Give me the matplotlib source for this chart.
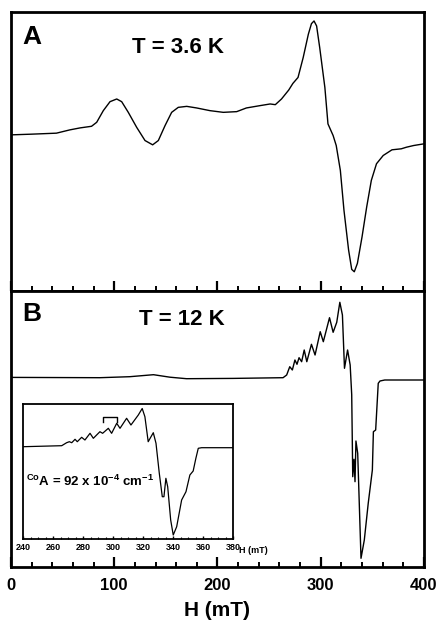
import matplotlib
matplotlib.use("Agg")
import matplotlib.pyplot as plt
from matplotlib.ticker import MultipleLocator

plt.rcParams["font.family"] = ["Liberation Sans", "DejaVu Sans"]
plt.rcParams["font.weight"] = "bold"
plt.rcParams["mathtext.fontset"] = "custom"
plt.rcParams["mathtext.rm"] = "Liberation Sans:bold"
plt.rcParams["mathtext.bf"] = "Liberation Sans:bold"
plt.rcParams["mathtext.default"] = "rm"
plt.rcParams["lines.solid_joinstyle"] = "round"

# EPR derivative spectra, field in mT, intensity in arbitrary units
field_a = [0, 20, 44, 57, 67, 78, 83, 89.4, 95.9, 102.4, 107.2, 113.6, 121.7, 129.8, 137.2,
           142.7, 149.2, 155.6, 162, 170.2, 179.8, 192.7, 205.6, 218.6, 228, 241, 251,
           256, 262, 269, 273, 278, 283, 288, 291, 293.5, 296, 299, 304, 307, 312, 315,
           319, 322.5, 327, 330, 332.5, 335.5, 340, 344.5, 349, 354, 360.5, 369, 378,
           383, 390, 400]
signal_a = [0, 0.7, 1.7, 5, 7, 8.6, 12.6, 24.3, 33.3, 36, 33.3, 22.6, 7.6, -5.7, -10,
            -5.7, 9.3, 22.6, 27.6, 28.6, 27, 24.3, 22.6, 23.3, 27, 29.3, 31,
            30.3, 36, 45, 51.6, 57.6, 77.6, 101, 111.6, 114.3, 109.3, 87.6, 47.6, 11, -0.7, -10.7,
            -35.7, -75.7, -115.7, -135, -137.4, -129, -102.4, -72.4, -45.7, -29, -20.7, -15, -14,
            -12.4, -10.7, -9]

field_b = [0, 86, 115, 138, 154, 170, 215, 263.5, 267, 270, 272.5, 275, 277, 279, 281.5,
           284, 286.5, 291, 294.5, 299.5, 302.5, 308.5, 312, 315.5, 318.5, 321, 323,
           326, 328.5, 330, 331, 332.2, 333.2, 334.1, 335.8, 339, 342.2, 346, 350,
           351, 353.2, 355.7, 357.4, 362, 400]
signal_b = [0.3, 0, 1, 3, 0.5, -1, -0.7, 0, 2.7, 11, 7.7, 17.7, 13.4, 20, 16,
            27.7, 16, 33.4, 22.7, 46, 36, 60, 45.4, 55.4, 75.4, 62.7, 9.4,
            27.7, 12.7, -17, -99, -81.6, -104, -63.3, -75.6, -180.6, -162.3, -125.6, -92.3,
            -54, -52.3, -5.6, -3.3, -2.3, -2.3]

# expanded view of the hyperfine region at 12 K
field_inset = [240, 265.6, 268.9, 270.7, 272.3, 274.5, 276, 278.9, 281.1, 284.5, 286.7,
               291.1, 292.9, 296.7, 298.9, 302.3, 304.5, 308.9, 311.8, 316.7, 319.3,
               321.1, 323.3, 326.7, 328.5, 330.7, 332.7, 333.8, 335.1, 336.3, 338.3,
               340, 342.3, 345.6, 348.5, 351.1, 353.3, 355.1, 356.7, 358.9, 380]
signal_inset = [0, 1, 4, 5, 4, 7.4, 5, 9.4, 6.7, 13.4, 8.4,
                15, 13.4, 18.4, 13.4, 23.4, 18.4, 28.4, 21.7, 31.7, 38.2,
                30, 5, 14, 3.4, -26.6, -50, -50, -31.6, -40, -73.3,
                -88.3, -80, -53.3, -45, -28.3, -24.3, -11.6, -1.6, -1, -1]

# one hyperfine spacing marked above the inset trace
bracket_field = [293, 302.3]
bracket_signal = [25, 30]

fig = plt.figure(figsize=(4.4, 6.25), dpi=100)
ax_a = fig.add_axes([0.025, 0.5344, 0.9386, 0.4464])
ax_b = fig.add_axes([0.025, 0.0928, 0.9386, 0.4416])

for ax in (ax_a, ax_b):
    ax.set_xlim(0, 400)
    ax.set_yticks([])
    ax.xaxis.set_major_locator(MultipleLocator(100))
    ax.xaxis.set_minor_locator(MultipleLocator(20))
    ax.tick_params(axis="x", which="major", direction="in", length=7, width=1.6)
    ax.tick_params(axis="x", which="minor", direction="in", length=3.5, width=1.4)
    for sp in ax.spines.values():
        sp.set_linewidth(2.0)

ax_a.plot(field_a, signal_a, color="black", lw=1.0)
ax_a.set_ylim(-156.7, 123.3)
ax_a.tick_params(axis="x", labelbottom=False)
ax_a.text(0.027, 0.955, "A", transform=ax_a.transAxes, fontsize=19, fontweight="bold",
          va="top", ha="left")
ax_a.text(0.292, 0.91, "T = 3.6 K", transform=ax_a.transAxes, fontsize=16, fontweight="bold",
          va="top", ha="left")

ax_b.plot(field_b, signal_b, color="black", lw=1.0)
ax_b.set_ylim(-189.3, 86.7)
ax_b.tick_params(axis="x", labelsize=12, pad=8)
for lab in ax_b.get_xticklabels():
    lab.set_fontweight("bold")
ax_b.set_xlabel("H (mT)", fontsize=15, fontweight="bold", labelpad=6)
ax_b.text(0.027, 0.96, "B", transform=ax_b.transAxes, fontsize=19, fontweight="bold",
          va="top", ha="left")
ax_b.text(0.31, 0.935, "T = 12 K", transform=ax_b.transAxes, fontsize=16, fontweight="bold",
          va="top", ha="left")

ax_in = fig.add_axes([0.053, 0.1371, 0.477, 0.2165])
ax_in.plot(field_inset, signal_inset, color="black", lw=0.9)
ax_in.plot([bracket_field[0], bracket_field[0], bracket_field[1], bracket_field[1]],
           [bracket_signal[0], bracket_signal[1], bracket_signal[1], bracket_signal[0]],
           color="black", lw=1.0)
ax_in.set_xlim(240, 380)
ax_in.set_ylim(-92.6, 42.7)
ax_in.set_yticks([])
ax_in.xaxis.set_major_locator(MultipleLocator(20))
ax_in.xaxis.set_minor_locator(MultipleLocator(5))
ax_in.tick_params(axis="x", which="major", direction="in", length=2.5, width=1.0,
                  labelsize=6.5, pad=3)
ax_in.tick_params(axis="x", which="minor", direction="in", length=1.5, width=0.8)
for lab in ax_in.get_xticklabels():
    lab.set_fontweight("bold")
for sp in ax_in.spines.values():
    sp.set_linewidth(1.3)
ax_in.text(1.03, -0.085, "H (mT)", transform=ax_in.transAxes, fontsize=6.5,
           fontweight="bold", va="center", ha="left")
ax_in.text(0.015, 0.43, r"$^{Co}$A = 92 x 10$^{-4}$ cm$^{-1}$", transform=ax_in.transAxes,
           fontsize=9.5, fontweight="bold", va="center", ha="left")

fig.savefig("out.png", dpi=100)
